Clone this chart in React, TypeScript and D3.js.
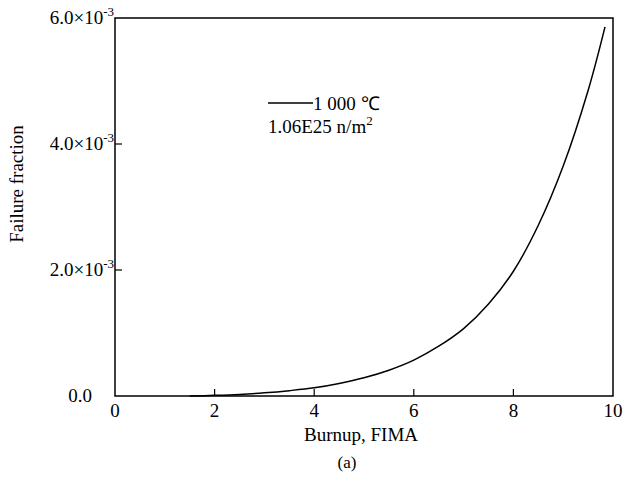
import React, { useEffect, useRef } from "react";
import * as d3 from "d3";

// burnup (FIMA) vs failure fraction
const burnup = [1.5, 2, 2.5, 3, 3.5, 4, 4.5, 5, 5.5, 6, 6.5, 7, 7.5, 8, 8.5, 9, 9.5, 9.84];
const failure = [
  0, 0.00001, 0.000025, 0.00005, 0.000085, 0.00013, 0.0002, 0.00029, 0.00041, 0.00057,
  0.00079, 0.00107, 0.00146, 0.00198, 0.00271, 0.00365, 0.00485, 0.00586,
];

const xTicks = [0, 2, 4, 6, 8, 10];
const yTicks = [0, 0.002, 0.004, 0.006];
const yTickMantissa = ["0.0", "2.0×10", "4.0×10", "6.0×10"];
const yTickExp = ["", "-3", "-3", "-3"];

const legendLine = "1 000 ℃";
const legendNote = "1.06E25 n/m";

const App = () => {
  const svgRef = useRef<SVGSVGElement>(null);

  useEffect(() => {
    const svg = d3.select(svgRef.current);
    svg.selectAll("*").remove();

    const width = 623;
    const height = 485;
    const margin = { top: 18, right: 10, bottom: 89, left: 115 };
    const font = "'Liberation Serif', 'Times New Roman', serif";

    const x = d3.scaleLinear().domain([0, 10]).range([margin.left, width - margin.right]);
    const y = d3.scaleLinear().domain([0, 0.006]).range([height - margin.bottom, margin.top]);

    svg.attr("viewBox", [0, 0, width, height]).style("font-family", font);

    // frame
    svg
      .append("rect")
      .attr("x", x(0))
      .attr("y", y(0.006))
      .attr("width", x(10) - x(0))
      .attr("height", y(0) - y(0.006))
      .attr("fill", "none")
      .attr("stroke", "#000")
      .attr("stroke-width", 1.5);

    // x ticks (inward)
    const gx = svg.append("g");
    gx.selectAll("line")
      .data(xTicks.slice(1, -1))
      .join("line")
      .attr("x1", (d) => x(d))
      .attr("x2", (d) => x(d))
      .attr("y1", y(0))
      .attr("y2", y(0) - 7)
      .attr("stroke", "#000")
      .attr("stroke-width", 1.2);
    gx.selectAll("text")
      .data(xTicks)
      .join("text")
      .attr("x", (d) => x(d))
      .attr("y", y(0) + 21)
      .attr("text-anchor", "middle")
      .attr("font-size", 19)
      .text((d) => d);

    // y ticks (inward)
    const gy = svg.append("g");
    gy.selectAll("line")
      .data(yTicks.slice(1, -1))
      .join("line")
      .attr("x1", x(0))
      .attr("x2", x(0) + 7)
      .attr("y1", (d) => y(d))
      .attr("y2", (d) => y(d))
      .attr("stroke", "#000")
      .attr("stroke-width", 1.2);
    const yl = gy
      .selectAll("text")
      .data(yTicks)
      .join("text")
      .attr("x", (d, i) => (i === 0 ? x(0) - 23 : x(0) - 1))
      .attr("y", (d) => y(d) + 6)
      .attr("text-anchor", "end")
      .attr("font-size", 19);
    yl.append("tspan").text((d, i) => yTickMantissa[i]);
    yl.append("tspan")
      .attr("font-size", 13)
      .attr("dy", -8)
      .text((d, i) => yTickExp[i]);

    // axis titles
    svg
      .append("text")
      .attr("x", (x(0) + x(10)) / 2 - 3)
      .attr("y", 441)
      .attr("text-anchor", "middle")
      .attr("font-size", 19)
      .text("Burnup, FIMA");
    svg
      .append("text")
      .attr("x", 347)
      .attr("y", 468)
      .attr("text-anchor", "middle")
      .attr("font-size", 17)
      .text("(a)");
    svg
      .append("text")
      .attr("transform", `translate(23,${184}) rotate(-90)`)
      .attr("text-anchor", "middle")
      .attr("font-size", 19)
      .text("Failure fraction");

    // curve
    const line = d3
      .line<number>()
      .x((d, i) => x(burnup[i]))
      .y((d) => y(d))
      .curve(d3.curveCatmullRom.alpha(0.5));
    svg
      .append("path")
      .datum(failure)
      .attr("fill", "none")
      .attr("stroke", "#000")
      .attr("stroke-width", 1.5)
      .attr("d", line);

    // legend
    const lg = svg.append("g");
    lg.append("line")
      .attr("x1", 268)
      .attr("x2", 313)
      .attr("y1", 103)
      .attr("y2", 103)
      .attr("stroke", "#000")
      .attr("stroke-width", 1.5);
    lg.append("text").attr("x", 313).attr("y", 110).attr("font-size", 19).text(legendLine);
    const note = lg.append("text").attr("x", 268).attr("y", 133).attr("font-size", 19);
    note.append("tspan").text(legendNote);
    note.append("tspan").attr("font-size", 13).attr("dy", -8).text("2");
  }, []);

  return <svg ref={svgRef} width={623} height={485} style={{ position: "absolute", left: 0, top: 0 }}></svg>;
};

export default App;
